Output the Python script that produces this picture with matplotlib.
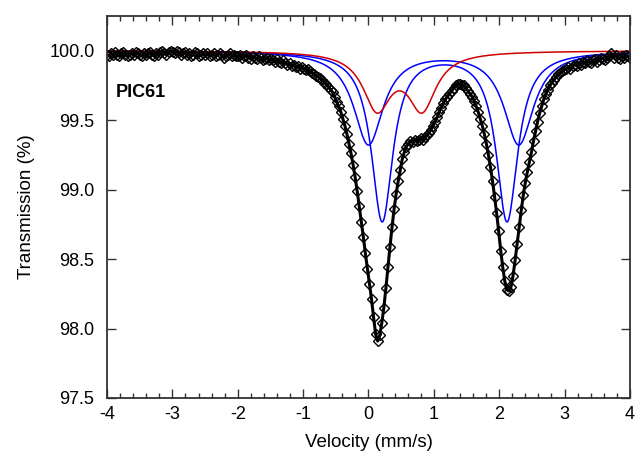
import numpy as np
import matplotlib
matplotlib.use("Agg")
import matplotlib.pyplot as plt
from matplotlib.ticker import MultipleLocator, FormatStrFormatter

plt.rcParams["font.family"] = ["Liberation Sans", "DejaVu Sans"]
plt.rcParams["axes.unicode_minus"] = False

# ============================================================
# Data (256 channels, -4 .. 4 mm/s)
# ============================================================

v_min, v_max = -4.0, 4.0

transmission = [
    99.97, 99.96, 99.98, 99.97, 99.99, 99.97, 99.96, 99.98, 99.99, 99.97, 99.96, 99.97, 99.98, 99.97, 99.99, 99.98,
    99.97, 99.96, 99.98, 99.97, 99.98, 99.99, 99.97, 99.96, 99.98, 99.97, 99.99, 100.00, 99.98, 99.97, 99.99, 100.00,
    99.99, 99.98, 100.00, 99.99, 99.97, 99.98, 99.99, 99.97, 99.98, 99.96, 99.97, 99.99, 99.98, 99.96, 99.97, 99.98,
    99.97, 99.98, 99.96, 99.97, 99.98, 99.96, 99.97, 99.98, 99.97, 99.95, 99.96, 99.97, 99.98, 99.96, 99.97, 99.96,
    99.96, 99.97, 99.95, 99.96, 99.97, 99.95, 99.94, 99.96, 99.95, 99.94, 99.96, 99.95, 99.93, 99.94, 99.95, 99.93,
    99.94, 99.93, 99.92, 99.94, 99.92, 99.91, 99.93, 99.91, 99.90, 99.91, 99.89, 99.90, 99.88, 99.89, 99.87, 99.88,
    99.87, 99.86, 99.87, 99.85, 99.84, 99.83, 99.82, 99.81, 99.80, 99.79, 99.77, 99.76, 99.74, 99.72, 99.70, 99.67,
    99.63, 99.60, 99.56, 99.51, 99.46, 99.40, 99.33, 99.26, 99.18, 99.09, 98.99, 98.88, 98.77, 98.66, 98.54, 98.43,
    98.32, 98.21, 98.08, 97.96, 97.91, 97.95, 98.04, 98.15, 98.29, 98.44, 98.59, 98.73, 98.86, 98.97, 99.06, 99.14,
    99.22, 99.27, 99.31, 99.33, 99.35, 99.34, 99.36, 99.35, 99.36, 99.37, 99.36, 99.38, 99.39, 99.41, 99.43, 99.46,
    99.49, 99.52, 99.56, 99.59, 99.62, 99.65, 99.67, 99.69, 99.71, 99.73, 99.75, 99.76, 99.76, 99.75, 99.75, 99.73,
    99.71, 99.69, 99.67, 99.64, 99.60, 99.56, 99.51, 99.46, 99.40, 99.33, 99.25, 99.16, 99.06, 98.95, 98.83, 98.70,
    98.56, 98.44, 98.34, 98.28, 98.27, 98.30, 98.38, 98.49, 98.61, 98.73, 98.85, 98.96, 99.05, 99.13, 99.20, 99.27,
    99.35, 99.42, 99.49, 99.55, 99.60, 99.65, 99.69, 99.72, 99.75, 99.77, 99.79, 99.81, 99.83, 99.84, 99.85, 99.86,
    99.87, 99.88, 99.87, 99.89, 99.90, 99.89, 99.91, 99.90, 99.92, 99.91, 99.93, 99.92, 99.91, 99.93, 99.94, 99.92,
    99.93, 99.95, 99.94, 99.93, 99.95, 99.96, 99.98, 99.95, 99.97, 99.95, 99.94, 99.96, 99.95, 99.97, 99.96, 99.95,
]

# Lorentzian doublet sub-spectra: line centres (mm/s), HWHM (mm/s), depth (%)
blue1_centres = [0.21, 2.12]
blue1_hwhm = 0.20
blue1_depth = 1.22

blue2_centres = [0.0, 2.30]
blue2_hwhm = 0.275
blue2_depth = 0.67

red_centres = [0.13, 0.82]
red_hwhm = 0.26
red_depth = 0.40

baseline = 100.0

# ============================================================
# Curves
# ============================================================

def doublet(v, centres, hwhm, depth):
    out = np.full_like(v, baseline)
    for c in centres:
        out -= depth / (1.0 + ((v - c) / hwhm) ** 2)
    return out

velocity = np.linspace(v_min, v_max, len(transmission))
v = np.linspace(v_min, v_max, 1000)

# ============================================================
# Plot
# ============================================================

fig = plt.figure(figsize=(6.35, 4.55), dpi=100)
ax = fig.add_axes([0.1685, 0.1253, 0.8235, 0.8397])

ax.plot(v, doublet(v, blue1_centres, blue1_hwhm, blue1_depth), color="#0000ff", lw=1.1)
ax.plot(v, doublet(v, blue2_centres, blue2_hwhm, blue2_depth), color="#0000ff", lw=1.1)
ax.plot(v, doublet(v, red_centres, red_hwhm, red_depth), color="#d00000", lw=1.1)
ax.plot(velocity, transmission, color="black", lw=2.2)
ax.plot(velocity, transmission, ls="none", marker="D", ms=5.5,
        mfc="none", mec="black", mew=1.0)

ax.set_xlim(-4, 4)
ax.set_ylim(97.5, 100.25)
ax.xaxis.set_major_locator(MultipleLocator(1))
ax.xaxis.set_minor_locator(MultipleLocator(0.2))
ax.yaxis.set_major_locator(MultipleLocator(0.5))
ax.yaxis.set_major_formatter(FormatStrFormatter("%.1f"))
ax.tick_params(which="both", direction="in", top=True, right=True,
               labelsize=13, color="#333333")
ax.tick_params(which="major", length=6.5, width=1.0)
ax.tick_params(which="minor", length=3.5, width=1.0)
ax.tick_params(axis="y", pad=9)
ax.tick_params(axis="x", pad=6)
for s in ax.spines.values():
    s.set_linewidth(1.3)
    s.set_color("#333333")

ax.set_xlabel("Velocity (mm/s)", fontsize=13.5, labelpad=8)
ax.set_ylabel("Transmission (%)", fontsize=13.5, labelpad=10)
ax.text(-3.86, 99.70, "PIC61", fontsize=13, fontweight="bold", va="center", ha="left")

fig.savefig("out.png", dpi=100)
